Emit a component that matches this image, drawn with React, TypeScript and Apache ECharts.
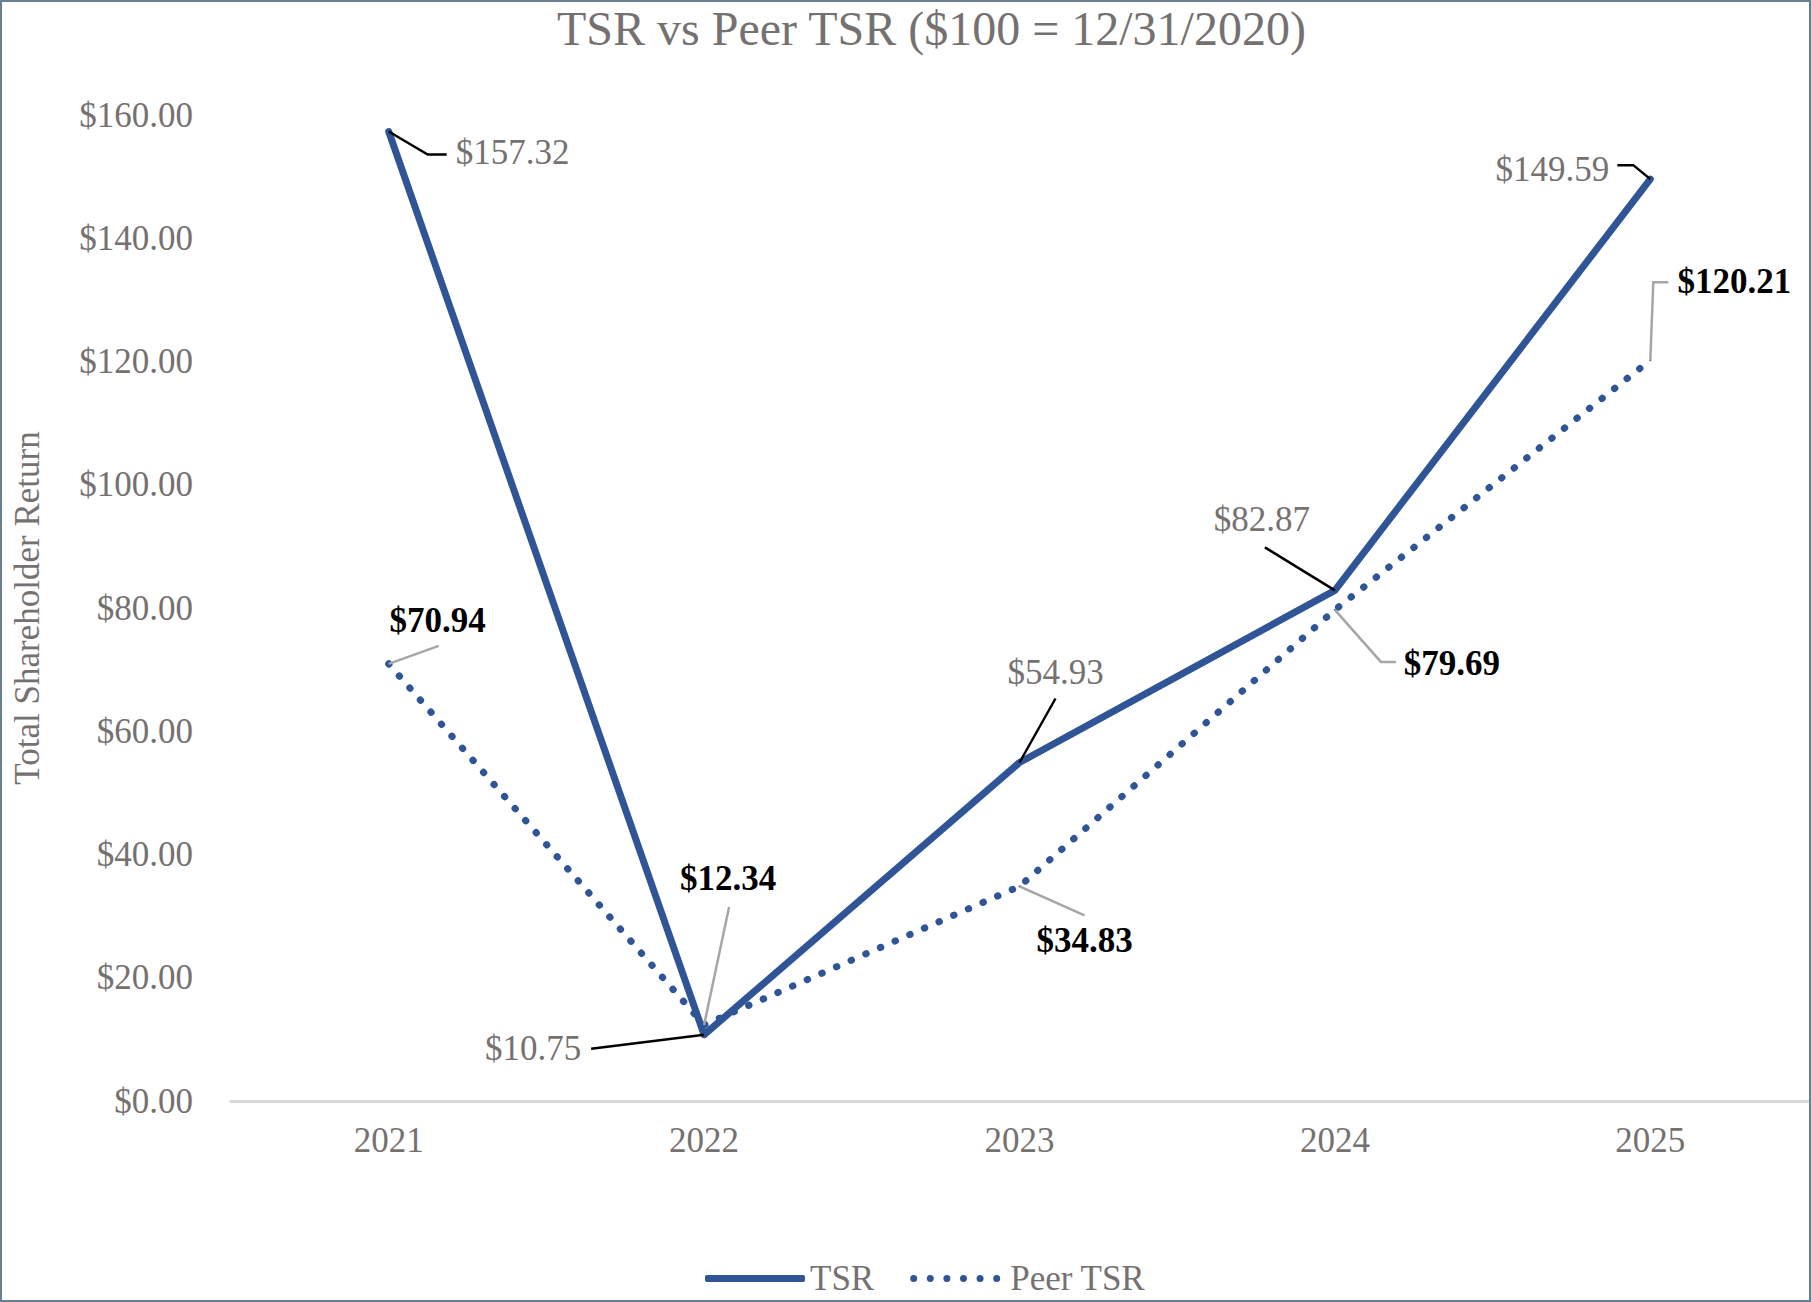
import React, { useEffect, useRef } from "react";
import * as echarts from "echarts";

const categories = ["2021", "2022", "2023", "2024", "2025"];
const tsrValues = [157.32, 10.75, 54.93, 82.87, 149.59];
const peerValues = [70.94, 12.34, 34.83, 79.69, 120.21];
const yTicks = [0, 20, 40, 60, 80, 100, 120, 140, 160];

// label offsets (px) from each point to the label centre
const tsrLabelOffsets = [
  [124, 21],
  [-171, 14],
  [36, -90],
  [-73, -71],
  [-98, -10],
];
const peerLabelOffsets = [
  [49, -43],
  [24, -146],
  [65, 54],
  [117, 54],
  [84, -79],
];
// leader-line bend points (px) relative to each point
const tsrLeaders = [
  [[39, 23], [58, 23]],
  [[-113, 14]],
  [[36, -64]],
  [[-70, -43]],
  [[-17, -14], [-33, -14]],
];
const peerLeaders = [
  [[50, -18]],
  [[25, -118]],
  [[65, 29]],
  [[46, 52], [61, 52]],
  [[3, -78], [18, -78]],
];

const BLUE = "#2F5597";
const GREY = "#767171";
const FONT = "'Liberation Serif', 'Times New Roman', serif";

const fmt = (v: number) => "$" + v.toFixed(2);

const dotsPath = (() => {
  let d = "path://";
  for (let i = 0; i < 6; i++) {
    const cx = 3.5 + i * 16.6;
    d += `M${cx - 3.5},3.5a3.5,3.5 0 1,0 7,0a3.5,3.5 0 1,0 -7,0Z`;
  }
  return d;
})();

export default function App() {
  const ref = useRef<HTMLDivElement>(null);
  useEffect(() => {
    document.body.style.margin = "0";
    const chart = echarts.init(ref.current!, undefined, { renderer: "svg" });
    const labelSeries = (
      name: string,
      values: number[],
      offsets: number[][],
      dashed: boolean,
      bold: boolean,
      z: number
    ) => ({
      name,
      type: "line",
      data: values,
      symbol: "circle",
      symbolSize: 2,
      itemStyle: { color: BLUE },
      lineStyle: dashed
        ? { color: BLUE, width: 7, type: [0.5, 15.5], cap: "round", join: "round" }
        : { color: BLUE, width: 7, cap: "round", join: "round" },
      z,
      label: {
        show: true,
        position: "inside",
        formatter: (p: any) => fmt(p.value),
        fontFamily: FONT,
        fontSize: 35,
        fontWeight: bold ? "bold" : "normal",
        color: bold ? "#000000" : GREY,
      },
      labelLayout: (p: any) => ({
        dx: offsets[p.dataIndex][0],
        dy: offsets[p.dataIndex][1],
      }),
    });

    chart.setOption({
      animation: false,
      backgroundColor: "#ffffff",
      textStyle: { fontFamily: FONT },
      title: {
        text: "TSR vs Peer TSR ($100 = 12/31/2020)",
        left: 552,
        top: -1,
        textStyle: { fontFamily: FONT, fontSize: 48, fontWeight: "normal", color: GREY },
      },
      legend: {
        left: 700,
        top: 1256,
        itemWidth: 100,
        itemHeight: 7,
        itemGap: 36,
        itemStyle: { borderWidth: 0 },
        data: [
          { name: "TSR", icon: "roundRect" },
          { name: "Peer TSR", icon: dotsPath },
        ],
        textStyle: { fontFamily: FONT, fontSize: 35, color: GREY },
      },
      grid: { left: 231, right: 3, top: 115, bottom: 201, containLabel: false },
      xAxis: {
        type: "category",
        data: categories,
        boundaryGap: true,
        axisLine: { show: true, lineStyle: { color: "#D9D9D9", width: 3 } },
        axisTick: { show: false },
        axisLabel: { fontFamily: FONT, fontSize: 35, color: GREY, margin: 22 },
        splitLine: { show: false },
      },
      yAxis: {
        type: "value",
        min: yTicks[0],
        max: yTicks[yTicks.length - 1],
        interval: yTicks[1] - yTicks[0],
        name: "Total Shareholder Return",
        nameLocation: "middle",
        nameGap: 186,
        nameRotate: 90,
        nameTextStyle: { fontFamily: FONT, fontSize: 35, color: GREY },
        axisLine: { show: false },
        axisTick: { show: false },
        splitLine: { show: false },
        axisLabel: {
          fontFamily: FONT,
          fontSize: 35,
          color: GREY,
          margin: 38,
          formatter: (v: number) => fmt(v),
        },
      },
      series: [
        labelSeries("TSR", tsrValues, tsrLabelOffsets, false, false, 3),
        labelSeries("Peer TSR", peerValues, peerLabelOffsets, true, true, 2),
      ],
    });

    const leaderGraphics: any[] = [];
    const addLeaders = (values: number[], leaders: number[][][], color: string) => {
      values.forEach((v, i) => {
        const pt = chart.convertToPixel({ gridIndex: 0 }, [i, v]) as number[];
        const pts = [[pt[0], pt[1]], ...leaders[i].map((o) => [pt[0] + o[0], pt[1] + o[1]])];
        leaderGraphics.push({
          type: "polyline",
          shape: { points: pts },
          style: { stroke: color, lineWidth: 2.5, fill: "none" },
          z: 10,
          silent: true,
        });
      });
    };
    addLeaders(tsrValues, tsrLeaders, "#000000");
    addLeaders(peerValues, peerLeaders, "#A6A6A6");
    leaderGraphics.push({
      type: "rect",
      shape: { x: 1, y: 1, width: 1809, height: 1300 },
      style: { fill: "none", stroke: "#6B7F92", lineWidth: 2 },
      silent: true,
      z: 20,
    });
    chart.setOption({ graphic: leaderGraphics });

    return () => chart.dispose();
  }, []);
  return <div ref={ref} style={{ width: 1811, height: 1302 }} />;
}
